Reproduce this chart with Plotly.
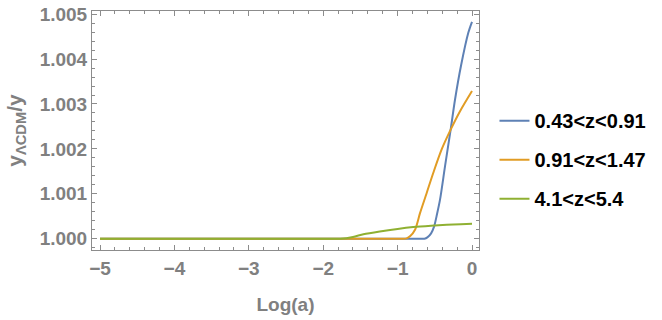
import plotly.graph_objects as go

series_names = ["0.43<z<0.91", "0.91<z<1.47", "4.1<z<5.4"]

blue_x = [-5, -1.0, -0.75, -0.68, -0.64, -0.60, -0.55, -0.51, -0.47, -0.43, -0.363, -0.287, -0.228, -0.148, -0.049, 0]
blue_y = [1.0, 1.0, 1.0, 1.0, 1.0, 1.00003, 1.00012, 1.00027, 1.00055, 1.00087, 1.00161, 1.00243, 1.00310, 1.00385, 1.00459, 1.00483]

orange_x = [-5, -1.2, -1.0, -0.92, -0.88, -0.83, -0.766, -0.699, -0.609, -0.52, -0.408, -0.287, -0.161, 0]
orange_y = [1.0, 1.0, 1.0, 1.0, 1.00001, 1.00006, 1.0002, 1.00057, 1.00102, 1.00147, 1.00199, 1.00243, 1.00284, 1.00329]

green_x = [-5, -2.5, -2.1, -1.9, -1.77, -1.6, -1.46, -1.24, -1.0, -0.79, -0.55, -0.34, -0.15, 0]
green_y = [1.0, 1.0, 1.0, 1.0, 1.0, 1.00004, 1.0001, 1.000163, 1.00022, 1.00026, 1.00029, 1.00031, 1.000325, 1.000335]

x_tick_vals = [-5, -4, -3, -2, -1, 0]
y_tick_vals = [1.000, 1.001, 1.002, 1.003, 1.004, 1.005]

colors = ["#5E81B5", "#E19C24", "#8FB032"]
xs = [blue_x, orange_x, green_x]
ys = [blue_y, orange_y, green_y]

fig = go.Figure()
for i in range(3):
    fig.add_trace(go.Scatter(
        x=xs[i], y=ys[i], mode="lines", name=series_names[i],
        line=dict(color=colors[i], width=2, shape="spline", smoothing=0.8),
        legendgroup=f"g{i}",
    ))

gray = "#808080"
axis_common = dict(
    showline=True, linecolor="#8c8c8c", linewidth=1, mirror="allticks",
    ticks="inside", ticklen=5, tickwidth=1, tickcolor="#8c8c8c",
    showgrid=False, zeroline=False, automargin=False,
    tickfont=dict(family="Liberation Sans", size=19, color=gray, weight="bold"),
)

fig.update_xaxes(
    range=[-5.108, 0.094], tickvals=x_tick_vals, ticklabelstandoff=1,
    minor=dict(dtick=0.2, tick0=0, ticks="inside", ticklen=3, tickcolor="#8c8c8c", showgrid=False),
    title=dict(text="Log(a)", font=dict(family="Liberation Sans", size=19, color=gray, weight="bold"), standoff=19),
    **axis_common,
)
fig.update_yaxes(
    range=[0.99975, 1.00507], tickvals=y_tick_vals, tickformat=".3f",
    minor=dict(dtick=0.0002, tick0=1.0, ticks="inside", ticklen=3, tickcolor="#8c8c8c", showgrid=False),
    title=dict(text="y<sub>ΛCDM</sub>/y", font=dict(family="Liberation Sans", size=21, color=gray, weight="bold"), standoff=11),
    **axis_common,
)

fig.update_layout(
    width=662, height=320,
    margin=dict(l=92, r=183, t=11, b=70),
    paper_bgcolor="white", plot_bgcolor="white",
    legend=dict(
        x=1.04, xanchor="left", y=0.378, yanchor="middle",
        font=dict(family="Liberation Sans", size=20, color="black", weight="bold"),
        tracegroupgap=10, bgcolor="rgba(0,0,0,0)",
    ),
)

fig.write_html("out.html", config={"displayModeBar": False},
               post_script="document.body.style.margin='0px';")
